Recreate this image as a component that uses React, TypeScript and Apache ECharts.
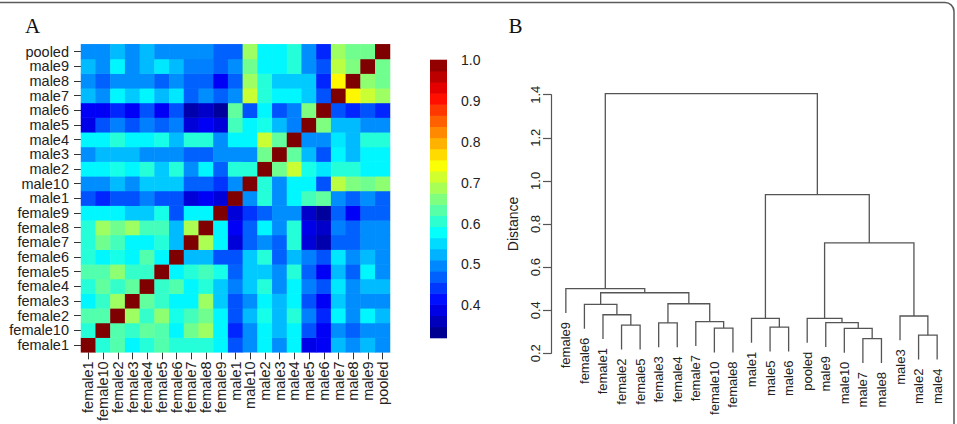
import React, { useEffect, useRef } from 'react';
import * as echarts from 'echarts';

// ---------- Panel A: correlation heatmap ----------
const SAMPLES = ['female1', 'female10', 'female2', 'female3', 'female4', 'female5', 'female6', 'female7', 'female8', 'female9',
  'male1', 'male10', 'male2', 'male3', 'male4', 'male5', 'male6', 'male7', 'male8', 'male9', 'pooled'];

// each row: correlation of the row sample (y) with every sample in SAMPLES order (x)
const ROW_FEMALE1 = [1, .60, .63, .57, .60, .63, .60, .60, .60, .57, .46, .50, .57, .50, .57, .39, .40, .53, .50, .53, .50];
const ROW_FEMALE10 = [.60, 1, .63, .61, .64, .63, .57, .65, .68, .57, .43, .50, .57, .53, .57, .46, .40, .50, .47, .50, .50];
const ROW_FEMALE2 = [.63, .63, 1, .68, .61, .67, .59, .62, .65, .57, .46, .53, .59, .53, .60, .49, .43, .57, .50, .57, .53];
const ROW_FEMALE3 = [.57, .61, .68, 1, .64, .61, .57, .57, .68, .54, .46, .50, .57, .53, .57, .46, .40, .54, .50, .50, .50];
const ROW_FEMALE4 = [.60, .64, .61, .64, 1, .61, .63, .57, .60, .54, .49, .54, .60, .50, .57, .49, .46, .56, .50, .53, .53];
const ROW_FEMALE5 = [.63, .63, .67, .61, .61, 1, .57, .60, .62, .59, .47, .54, .54, .50, .60, .47, .40, .53, .47, .57, .50];
const ROW_FEMALE6 = [.60, .57, .59, .57, .63, .57, 1, .53, .53, .46, .46, .54, .60, .47, .53, .49, .46, .56, .50, .53, .50];
const ROW_FEMALE7 = [.60, .65, .62, .57, .57, .60, .53, 1, .69, .57, .38, .47, .50, .47, .60, .38, .35, .47, .47, .50, .50];
const ROW_FEMALE8 = [.60, .68, .65, .68, .62, .62, .53, .69, 1, .57, .40, .47, .57, .50, .60, .39, .37, .49, .47, .50, .50];
const ROW_FEMALE9 = [.57, .57, .57, .54, .54, .59, .46, .57, .57, 1, .38, .44, .47, .50, .50, .37, .34, .47, .40, .47, .47];
const ROW_MALE1 = [.46, .43, .46, .46, .49, .46, .46, .38, .40, .38, 1, .50, .60, .50, .57, .62, .64, .50, .47, .50, .47];
const ROW_MALE10 = [.50, .50, .53, .50, .54, .54, .54, .47, .47, .44, .50, 1, .60, .50, .57, .57, .46, .70, .66, .65, .67];
const ROW_MALE2 = [.57, .57, .59, .57, .60, .54, .60, .50, .57, .47, .60, .60, 1, .65, .71, .59, .56, .60, .60, .57, .57];
const ROW_MALE3 = [.50, .53, .53, .53, .50, .50, .50, .47, .47, .50, .50, .50, .65, 1, .64, .53, .46, .57, .53, .57, .57];
const ROW_MALE4 = [.57, .57, .60, .57, .57, .59, .53, .60, .60, .50, .57, .57, .71, .64, 1, .50, .50, .56, .53, .60, .60];
const ROW_MALE5 = [.39, .46, .49, .46, .49, .47, .49, .38, .40, .38, .62, .57, .59, .53, .49, 1, .66, .53, .53, .50, .50];
const ROW_MALE6 = [.40, .40, .43, .40, .46, .40, .46, .35, .37, .34, .64, .46, .57, .46, .49, .66, 1, .46, .43, .46, .43];
const ROW_MALE7 = [.53, .50, .57, .54, .57, .53, .56, .47, .50, .47, .50, .71, .60, .57, .57, .54, .46, 1, .75, .71, .68];
const ROW_MALE8 = [.50, .47, .50, .50, .50, .47, .50, .47, .47, .40, .47, .68, .60, .54, .54, .54, .43, .75, 1, .67, .65];
const ROW_MALE9 = [.53, .50, .57, .50, .53, .56, .53, .49, .49, .47, .50, .65, .57, .57, .60, .50, .46, .70, .66, 1, .65];
const ROW_POOLED = [.50, .50, .53, .50, .53, .50, .50, .50, .50, .47, .47, .68, .57, .57, .60, .50, .43, .68, .65, .65, 1];

const CORRELATION = [ROW_FEMALE1, ROW_FEMALE10, ROW_FEMALE2, ROW_FEMALE3, ROW_FEMALE4, ROW_FEMALE5, ROW_FEMALE6,
  ROW_FEMALE7, ROW_FEMALE8, ROW_FEMALE9, ROW_MALE1, ROW_MALE10, ROW_MALE2, ROW_MALE3, ROW_MALE4, ROW_MALE5,
  ROW_MALE6, ROW_MALE7, ROW_MALE8, ROW_MALE9, ROW_POOLED];

const COLOR_MIN = 0.32;
const COLOR_MAX = 1.0;
const COLORBAR_TICKS = [0.4, 0.5, 0.6, 0.7, 0.8, 0.9, 1.0];
const COLORBAR_BANDS = 25;
const JET = ['#00007F', '#0000FF', '#007FFF', '#00FFFF', '#7FFF7F', '#FFFF00', '#FF7F00', '#FF0000', '#7F0000'];

// ---------- Panel B: dendrogram ----------
const LEAF_ORDER = ['female9', 'female6', 'female1', 'female2', 'female5', 'female3', 'female4', 'female7', 'female10',
  'female8', 'male1', 'male5', 'male6', 'pooled', 'male9', 'male10', 'male7', 'male8', 'male3', 'male2', 'male4'];
// R-style merge table: negative = leaf position in LEAF_ORDER (1-based), positive = earlier merge step (1-based)
const MERGE_LEFT = [-17, -20, -16, -9, -12, -4, -6, -15, -8, -11, -14, -19, -3, -2, 7, 14, -1, 11, 10, 17];
const MERGE_RIGHT = [-18, -21, 1, -10, -13, -5, -7, 3, 4, 5, 8, 2, 6, 13, 9, 15, 16, 12, 18, 19];
const MERGE_HEIGHT = [0.268, 0.284, 0.316, 0.317, 0.321, 0.331, 0.341, 0.342, 0.347, 0.362, 0.362, 0.373, 0.379,
  0.427, 0.430, 0.481, 0.500, 0.712, 0.936, 1.405];
const HANG = 0.113;

const FONT = '"Liberation Sans", Arial, Helvetica, sans-serif';
const SERIF = '"Liberation Serif", "Times New Roman", serif';

function buildDendrogram() {
  const nodeX: number[] = [];
  const nodeH: number[] = [];
  const segments: number[][] = [];
  const leafBottom: number[] = new Array(LEAF_ORDER.length).fill(0);
  for (let i = 0; i < MERGE_HEIGHT.length; i++) {
    const h = MERGE_HEIGHT[i];
    const child = (c: number) => {
      if (c < 0) {
        leafBottom[-c - 1] = h - HANG;
        return { x: -c, y: h - HANG };
      }
      return { x: nodeX[c - 1], y: nodeH[c - 1] };
    };
    const a = child(MERGE_LEFT[i]);
    const b = child(MERGE_RIGHT[i]);
    nodeX.push((a.x + b.x) / 2);
    nodeH.push(h);
    segments.push([a.x, a.y, b.x, b.y, h]);
  }
  const leaves = LEAF_ORDER.map((_, i) => [i + 1, leafBottom[i]]);
  return { segments, leaves };
}

export default function App() {
  const ref = useRef<HTMLDivElement>(null);

  useEffect(() => {
    if (!ref.current) return;
    const chart = echarts.init(ref.current, null, { renderer: 'svg' });

    const heatData: number[][] = [];
    CORRELATION.forEach((row, yi) => row.forEach((v, xi) => heatData.push([xi, yi, v])));

    const step = (COLOR_MAX - COLOR_MIN) / COLORBAR_BANDS;
    const bandData: number[][] = [];
    for (let i = 0; i < COLORBAR_BANDS; i++) {
      const lo = COLOR_MIN + i * step;
      bandData.push([lo, lo + step, lo + step / 2]);
    }

    const { segments, leaves } = buildDendrogram();

    const option: any = {
      animation: false,
      backgroundColor: '#ffffff',
      textStyle: { fontFamily: FONT },
      graphic: [
        {
          type: 'rect', silent: true, z: 100,
          shape: { x: -12, y: 2.5, width: 966, height: 460, r: 9 },
          style: { fill: 'none', stroke: '#5a5a5a', lineWidth: 1.5 },
        },
        { type: 'text', x: 25, y: 25.5, style: { text: 'A', fontFamily: SERIF, fontSize: 21, fill: '#111', verticalAlign: 'middle' } },
        { type: 'text', x: 508.5, y: 25.5, style: { text: 'B', fontFamily: SERIF, fontSize: 21, fill: '#111', verticalAlign: 'middle' } },
      ],
      visualMap: {
        type: 'continuous', show: false, min: COLOR_MIN, max: COLOR_MAX, dimension: 2,
        seriesIndex: [0, 1], inRange: { color: JET },
      },
      grid: [
        { left: 81, top: 44.3, width: 309, height: 308.5 },
        { left: 430, top: 60, width: 17, height: 278 },
        { left: 551, top: 94.7, width: 401, height: 258.6 },
      ],
      xAxis: [
        {
          type: 'category', gridIndex: 0, data: SAMPLES, position: 'bottom',
          axisLine: { show: false },
          axisTick: { show: true, alignWithLabel: true, length: 7, lineStyle: { color: '#333' } },
          axisLabel: { interval: 0, rotate: 90, margin: 9, fontSize: 14.5, color: '#222', fontFamily: FONT },
          splitLine: { show: false },
        },
        { type: 'value', gridIndex: 1, min: 0, max: 1, show: false },
        { type: 'value', gridIndex: 2, min: 0.2, max: 21.8, show: false },
      ],
      yAxis: [
        {
          type: 'category', gridIndex: 0, data: SAMPLES,
          axisLine: { show: false },
          axisTick: { show: true, alignWithLabel: true, length: 7, lineStyle: { color: '#333' } },
          axisLabel: { interval: 0, margin: 12, fontSize: 14.5, color: '#222', fontFamily: FONT },
          splitLine: { show: false },
        },
        {
          type: 'value', gridIndex: 1, position: 'right', min: COLOR_MIN, max: COLOR_MAX,
          axisLine: { show: false },
          axisTick: { show: true, length: 8, customValues: COLORBAR_TICKS, lineStyle: { color: '#333' } },
          axisLabel: {
            customValues: COLORBAR_TICKS, margin: 14, fontSize: 14, color: '#222', fontFamily: FONT,
            formatter: (v: number) => v.toFixed(1),
          },
          splitLine: { show: false },
        },
        {
          type: 'value', gridIndex: 2, min: 0.2, max: 1.4, interval: 0.2,
          name: 'Distance', nameLocation: 'middle', nameRotate: 90, nameGap: 31,
          nameTextStyle: { fontSize: 14, color: '#222', fontFamily: FONT },
          axisLine: { show: true, lineStyle: { color: '#555', width: 1.2 } },
          axisTick: { show: true, length: 8, lineStyle: { color: '#555', width: 1.2 } },
          axisLabel: {
            rotate: 90, margin: 9, fontSize: 13, color: '#222', fontFamily: FONT,
            formatter: (v: number) => v.toFixed(1),
          },
          splitLine: { show: false },
        },
      ],
      series: [
        {
          type: 'heatmap', xAxisIndex: 0, yAxisIndex: 0, data: heatData,
          itemStyle: { borderWidth: 0 }, emphasis: { disabled: true }, silent: true,
        },
        {
          type: 'custom', xAxisIndex: 1, yAxisIndex: 1, data: bandData, silent: true,
          renderItem: (params: any, api: any) => {
            const lo = api.coord([0, api.value(0)]);
            const hi = api.coord([1, api.value(1)]);
            return {
              type: 'rect',
              shape: { x: lo[0], y: hi[1] - 0.3, width: hi[0] - lo[0], height: lo[1] - hi[1] + 0.6 },
              style: { fill: api.visual('color') },
            };
          },
        },
        {
          type: 'custom', xAxisIndex: 2, yAxisIndex: 2, data: segments, silent: true, clip: false,
          renderItem: (params: any, api: any) => {
            const p1 = api.coord([api.value(0), api.value(1)]);
            const p2 = api.coord([api.value(0), api.value(4)]);
            const p3 = api.coord([api.value(2), api.value(4)]);
            const p4 = api.coord([api.value(2), api.value(3)]);
            return {
              type: 'polyline',
              shape: { points: [p1, p2, p3, p4] },
              style: { stroke: '#555', lineWidth: 1.3, fill: null },
            };
          },
        },
        {
          type: 'custom', xAxisIndex: 2, yAxisIndex: 2, data: leaves, silent: true, clip: false,
          renderItem: (params: any, api: any) => {
            const p = api.coord([api.value(0), api.value(1)]);
            return {
              type: 'text',
              x: p[0], y: p[1] + 9, rotation: Math.PI / 2,
              style: {
                text: LEAF_ORDER[params.dataIndex], fontSize: 13, fontFamily: FONT, fill: '#222',
                align: 'right', verticalAlign: 'middle',
              },
            };
          },
        },
      ],
    };

    chart.setOption(option);
    return () => chart.dispose();
  }, []);

  return (
    <div
      ref={ref}
      style={{ position: 'fixed', left: 0, top: 0, width: 957, height: 424, background: '#fff' }}
    />
  );
}
